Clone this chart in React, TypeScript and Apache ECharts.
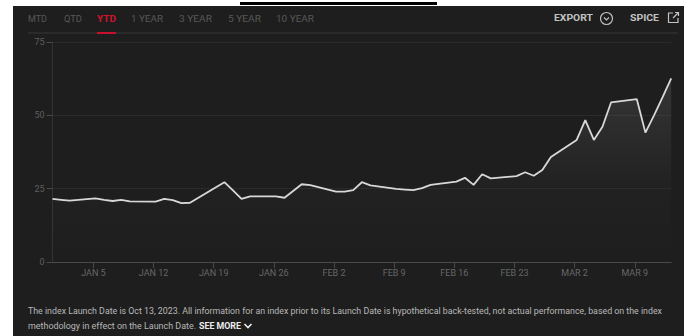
import React, { useEffect, useLayoutEffect, useRef } from "react";
import * as echarts from "echarts";

// ---------- data ----------
const DATES = [
  "2025-01-01", "2025-01-02", "2025-01-03",
  "2025-01-06", "2025-01-07", "2025-01-08", "2025-01-09", "2025-01-10",
  "2025-01-13", "2025-01-14", "2025-01-15", "2025-01-16", "2025-01-17",
  "2025-01-21", "2025-01-22", "2025-01-23", "2025-01-24",
  "2025-01-27", "2025-01-28", "2025-01-29", "2025-01-30", "2025-01-31",
  "2025-02-03", "2025-02-04", "2025-02-05", "2025-02-06", "2025-02-07",
  "2025-02-10", "2025-02-11", "2025-02-12", "2025-02-13", "2025-02-14",
  "2025-02-17", "2025-02-18", "2025-02-19", "2025-02-20", "2025-02-21",
  "2025-02-24", "2025-02-25", "2025-02-26", "2025-02-27", "2025-02-28",
  "2025-03-03", "2025-03-04", "2025-03-05", "2025-03-06", "2025-03-07",
  "2025-03-10", "2025-03-11", "2025-03-12", "2025-03-13", "2025-03-14",
];
const VALUES = [
  21.5, 21.2, 20.9,
  21.7, 21.2, 20.8, 21.2, 20.7,
  20.6, 21.5, 21.1, 20.1, 20.2,
  27.2, 24.4, 21.5, 22.4,
  22.4, 21.9, 24.2, 26.5, 26.2,
  24.0, 24.0, 24.5, 27.2, 26.1,
  24.9, 24.7, 24.5, 25.2, 26.3,
  27.4, 28.7, 26.3, 29.9, 28.5,
  29.3, 30.6, 29.4, 31.4, 35.8,
  41.6, 48.4, 41.6, 46.1, 54.4,
  55.5, 44.1, 50.0, 56.2, 62.6,
];
const TICK_DATES = [
  "2025-01-05", "2025-01-12", "2025-01-19", "2025-01-26", "2025-02-02",
  "2025-02-09", "2025-02-16", "2025-02-23", "2025-03-02", "2025-03-09",
];
const TICK_LABELS = [
  "JAN 5", "JAN 12", "JAN 19", "JAN 26", "FEB 2",
  "FEB 9", "FEB 16", "FEB 23", "MAR 2", "MAR 9",
];
const Y_MIN = 0;
const Y_MAX = 75;
const Y_STEP = 25;
const TABS = ["MTD", "QTD", "YTD", "1 YEAR", "3 YEAR", "5 YEAR", "10 YEAR"];
const ACTIVE_TAB = "YTD";
const FOOTER_LINE1 =
  "The index Launch Date is Oct 13, 2023. All information for an index prior to its Launch Date is hypothetical back-tested, not actual performance, based on the index";
const FOOTER_LINE2 = "methodology in effect on the Launch Date.";
const SEE_MORE = "SEE MORE";

// tick marks are stamped later in the day than the data points (time-zone shift)
const TICK_DAY_SHIFT = 0.76;

// ---------- helpers ----------
const DAY = 86400000;
const dayOf = (s: string) => {
  const [y, m, d] = s.split("-").map(Number);
  return (Date.UTC(y, m - 1, d) - Date.UTC(2025, 0, 0)) / DAY;
};

// layout (px)
const W = 689;
const H = 336;
const TAB_X: [number, number][] = [
  [28, 47], [64, 82], [97, 116], [131, 163], [179, 212], [228, 261], [276, 314],
];

function FitText(props: {
  x: number; y: number; w: number; text: string; style?: React.CSSProperties;
}) {
  const ref = useRef<HTMLSpanElement>(null);
  useLayoutEffect(() => {
    const el = ref.current;
    if (!el) return;
    el.style.transform = "translateY(-50%)";
    const m = el.getBoundingClientRect().width;
    if (m > 0) el.style.transform = `translateY(-50%) scaleX(${props.w / m})`;
  }, [props.text, props.w]);
  return (
    <span
      ref={ref}
      style={{
        position: "absolute",
        left: props.x,
        top: props.y,
        whiteSpace: "nowrap",
        transformOrigin: "0 50%",
        lineHeight: 1,
        fontFamily: "Roboto, 'Noto Sans', sans-serif",
        transform: "translateY(-50%)",
        ...props.style,
      }}
    >
      {props.text}
    </span>
  );
}

export default function App() {
  const chartRef = useRef<HTMLDivElement>(null);

  useEffect(() => {
    document.body.style.margin = "0";
    const el = chartRef.current;
    if (!el) return;
    const chart = echarts.init(el, undefined, { renderer: "svg" });
    const xMin = dayOf(DATES[0]);
    const xMax = dayOf(DATES[DATES.length - 1]);
    const tickPos = TICK_DATES.map((d) => dayOf(d) + TICK_DAY_SHIFT);
    const labelFor = (v: number) => {
      const i = tickPos.findIndex((p) => Math.abs(p - v) < 0.01);
      return i >= 0 ? TICK_LABELS[i] : "";
    };
    chart.setOption({
      animation: false,
      grid: { left: 52.5, right: 17.8, top: 42, bottom: 74, containLabel: false },
      xAxis: {
        type: "value",
        min: xMin,
        max: xMax,
        axisLine: { show: true, lineStyle: { color: "#4a4a4a", width: 1 } },
        axisTick: {
          show: true,
          customValues: tickPos,
          length: 6,
          lineStyle: { color: "#4a4a4a" },
        },
        axisLabel: {
          customValues: tickPos,
          formatter: (v: number) => labelFor(v),
          color: "#676767",
          fontSize: 9,
          fontFamily: "Roboto",
          margin: 6,
        },
        splitLine: { show: false },
      },
      yAxis: {
        type: "value",
        min: Y_MIN,
        max: Y_MAX,
        interval: Y_STEP,
        axisLine: { show: true, lineStyle: { color: "#333333" } },
        axisTick: { show: true, length: 6, lineStyle: { color: "#4a4a4a" } },
        axisLabel: { color: "#5e5e5e", fontSize: 9, fontFamily: "Roboto", margin: 8 },
        splitLine: { show: true, lineStyle: { color: "#2a2a2a", width: 1 } },
      },
      series: [
        {
          type: "line",
          data: DATES.map((d, i) => [dayOf(d), VALUES[i]]),
          showSymbol: false,
          symbol: "none",
          lineStyle: { color: "#d8d8d8", width: 1.8 },
          areaStyle: {
            color: new echarts.graphic.LinearGradient(0, 0, 0, 1, [
              { offset: 0, color: "rgba(255,255,255,0.15)" },
              { offset: 0.6, color: "rgba(255,255,255,0.02)" },
              { offset: 1, color: "rgba(255,255,255,0)" },
            ]),
          },
        },
      ],
    });
    return () => chart.dispose();
  }, []);

  const tabStyle = (t: string): React.CSSProperties => ({
    color: t === ACTIVE_TAB ? "#d3122d" : "#585858",
    fontSize: 9.5,
    fontWeight: t === ACTIVE_TAB ? 700 : 400,
  });

  return (
    <div
      style={{
        position: "fixed",
        left: 0,
        top: 0,
        width: W,
        height: H,
        background: "#ffffff",
        overflow: "hidden",
      }}
    >
      {/* top underline from the page header */}
      <div style={{ position: "absolute", left: 240, top: 2, width: 197, height: 3, background: "#000" }} />
      {/* dark panel */}
      <div style={{ position: "absolute", left: 13, top: 6, width: 671, height: 330, background: "#1e1e1e" }} />
      {/* separator under tabs */}
      <div style={{ position: "absolute", left: 28, top: 32, width: 650, height: 2, background: "#2a2a2a" }} />
      {TABS.map((t, i) => (
        <FitText key={t} x={TAB_X[i][0]} y={19} w={TAB_X[i][1] - TAB_X[i][0]} text={t} style={tabStyle(t)} />
      ))}
      <div style={{ position: "absolute", left: 97, top: 32, width: 19, height: 2, background: "#c8102e" }} />
      <FitText x={554} y={18} w={39} text="EXPORT" style={{ color: "#c2c2c2", fontSize: 9.5, fontWeight: 700 }} />
      <svg style={{ position: "absolute", left: 599, top: 11 }} width={15} height={15} viewBox="0 0 15 15">
        <circle cx={7.5} cy={7.5} r={6} fill="none" stroke="#c2c2c2" strokeWidth={1.2} />
        <polyline points="5,6.5 7.5,9 10,6.5" fill="none" stroke="#c2c2c2" strokeWidth={1.2} />
      </svg>
      <FitText x={630} y={18} w={29} text="SPICE" style={{ color: "#c2c2c2", fontSize: 9.5, fontWeight: 700 }} />
      <svg style={{ position: "absolute", left: 667, top: 11 }} width={13} height={13} viewBox="0 0 13 13">
        <polyline points="6,2 1.5,2 1.5,11.5 11,11.5 11,7" fill="none" stroke="#c2c2c2" strokeWidth={1.2} />
        <polyline points="8,1.5 11.5,1.5 11.5,5" fill="none" stroke="#c2c2c2" strokeWidth={1.2} />
        <line x1={11.5} y1={1.5} x2={6} y2={7} stroke="#c2c2c2" strokeWidth={1.2} />
      </svg>

      <div ref={chartRef} style={{ position: "absolute", left: 0, top: 0, width: W, height: H }} />

      <FitText x={28} y={311} w={634} text={FOOTER_LINE1} style={{ color: "#b8b8b8", fontSize: 9 }} />
      <FitText x={28} y={326} w={168} text={FOOTER_LINE2} style={{ color: "#b8b8b8", fontSize: 9 }} />
      <FitText x={199} y={326} w={42} text={SEE_MORE} style={{ color: "#ededed", fontSize: 9, fontWeight: 700 }} />
      <svg style={{ position: "absolute", left: 243, top: 322 }} width={10} height={8} viewBox="0 0 10 8">
        <polyline points="1.5,2 5,5.5 8.5,2" fill="none" stroke="#ededed" strokeWidth={1.6} />
      </svg>
    </div>
  );
}
